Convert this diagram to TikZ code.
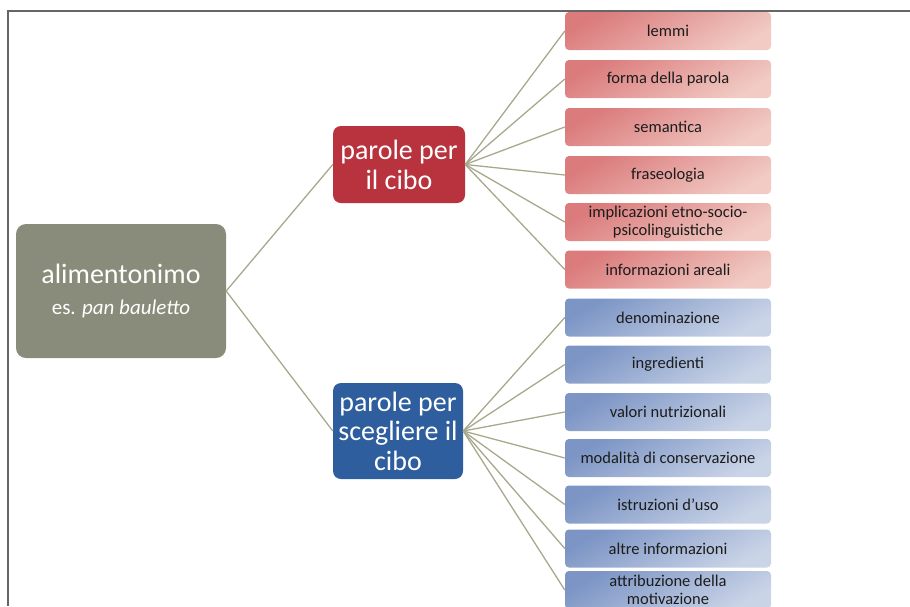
\documentclass[tikz,border=0pt]{standalone}
\usepackage{fontspec}
\setmainfont{Carlito}
\definecolor{rootc}{HTML}{8A8C7B}
\definecolor{redc}{HTML}{B8333E}
\definecolor{bluec}{HTML}{2E5E9E}
\definecolor{redA}{HTML}{DB7B7C}
\definecolor{redB}{HTML}{F1CBC4}
\definecolor{blueA}{HTML}{7C95C5}
\definecolor{blueB}{HTML}{CAD4E7}
\definecolor{linkc}{HTML}{A9A88C}
\definecolor{framec}{HTML}{666666}
\definecolor{txtc}{HTML}{1C1C1C}
\tikzset{
  rootbox/.style={fill=rootc, rounded corners=10pt, minimum width=210pt, minimum height=134pt, text=white, align=center, inner sep=0pt},
  midred/.style={fill=redc, rounded corners=8pt, minimum width=132pt, minimum height=77pt, text=white, align=center, inner sep=0pt, font=\fontsize{28}{30}\selectfont},
  midblue/.style={fill=bluec, rounded corners=8pt, minimum width=130pt, minimum height=96pt, text=white, align=center, inner sep=0pt, font=\fontsize{28}{29.5}\selectfont},
  leafred/.style={top color=redA, bottom color=redB, shading angle=30, rounded corners=4pt, minimum width=206pt, minimum height=38pt, text=txtc, align=center, inner sep=0pt, font=\fontsize{16.5}{18}\selectfont},
  leafblue/.style={top color=blueA, bottom color=blueB, shading angle=30, rounded corners=4pt, minimum width=206pt, minimum height=38pt, text=txtc, align=center, inner sep=0pt, font=\fontsize{16.5}{18}\selectfont},
  link/.style={draw=linkc, line width=1.3pt}
}
\begin{document}
\begin{tikzpicture}[x=1pt,y=-1pt]
\useasboundingbox (0,0) rectangle (910,606);
\draw[framec, line width=1.6pt] (8,606) -- (8,11) -- (910,11);

\node[rootbox] (root) at (121,291) {{\fontsize{28}{30}\selectfont alimentonimo}\\[16pt]{\fontsize{21}{24}\selectfont es. \textit{pan bauletto}}};
\node[midred] (pc) at (399,164.5) {parole per\\il cibo};
\node[midblue] (ps) at (398,431) {parole per\\scegliere il\\cibo};

\node[leafred] (r1) at (668,31) {lemmi};
\node[leafred] (r2) at (668,79) {forma della parola};
\node[leafred] (r3) at (668,127) {semantica};
\node[leafred] (r4) at (668,175) {fraseologia};
\node[leafred] (r5) at (668,222) {implicazioni etno-socio-\\psicolinguistiche};
\node[leafred] (r6) at (668,269.5) {informazioni areali};

\node[leafblue] (b1) at (668,317.5) {denominazione};
\node[leafblue] (b2) at (668,364.5) {ingredienti};
\node[leafblue] (b3) at (668,412) {valori nutrizionali};
\node[leafblue] (b4) at (668,458) {modalità di conservazione};
\node[leafblue] (b5) at (668,504.5) {istruzioni d'uso};
\node[leafblue] (b6) at (668,548.5) {altre informazioni};
\node[leafblue] (b7) at (668,590) {attribuzione della\\motivazione};

\draw[link] (root.east) -- (pc.west);
\draw[link] (root.east) -- (ps.west);
\foreach \n in {r1,r2,r3,r4,r5,r6} \draw[link] (pc.east) -- (\n.west);
\foreach \n in {b1,b2,b3,b4,b5,b6,b7} \draw[link] (ps.east) -- (\n.west);
\end{tikzpicture}
\end{document}
